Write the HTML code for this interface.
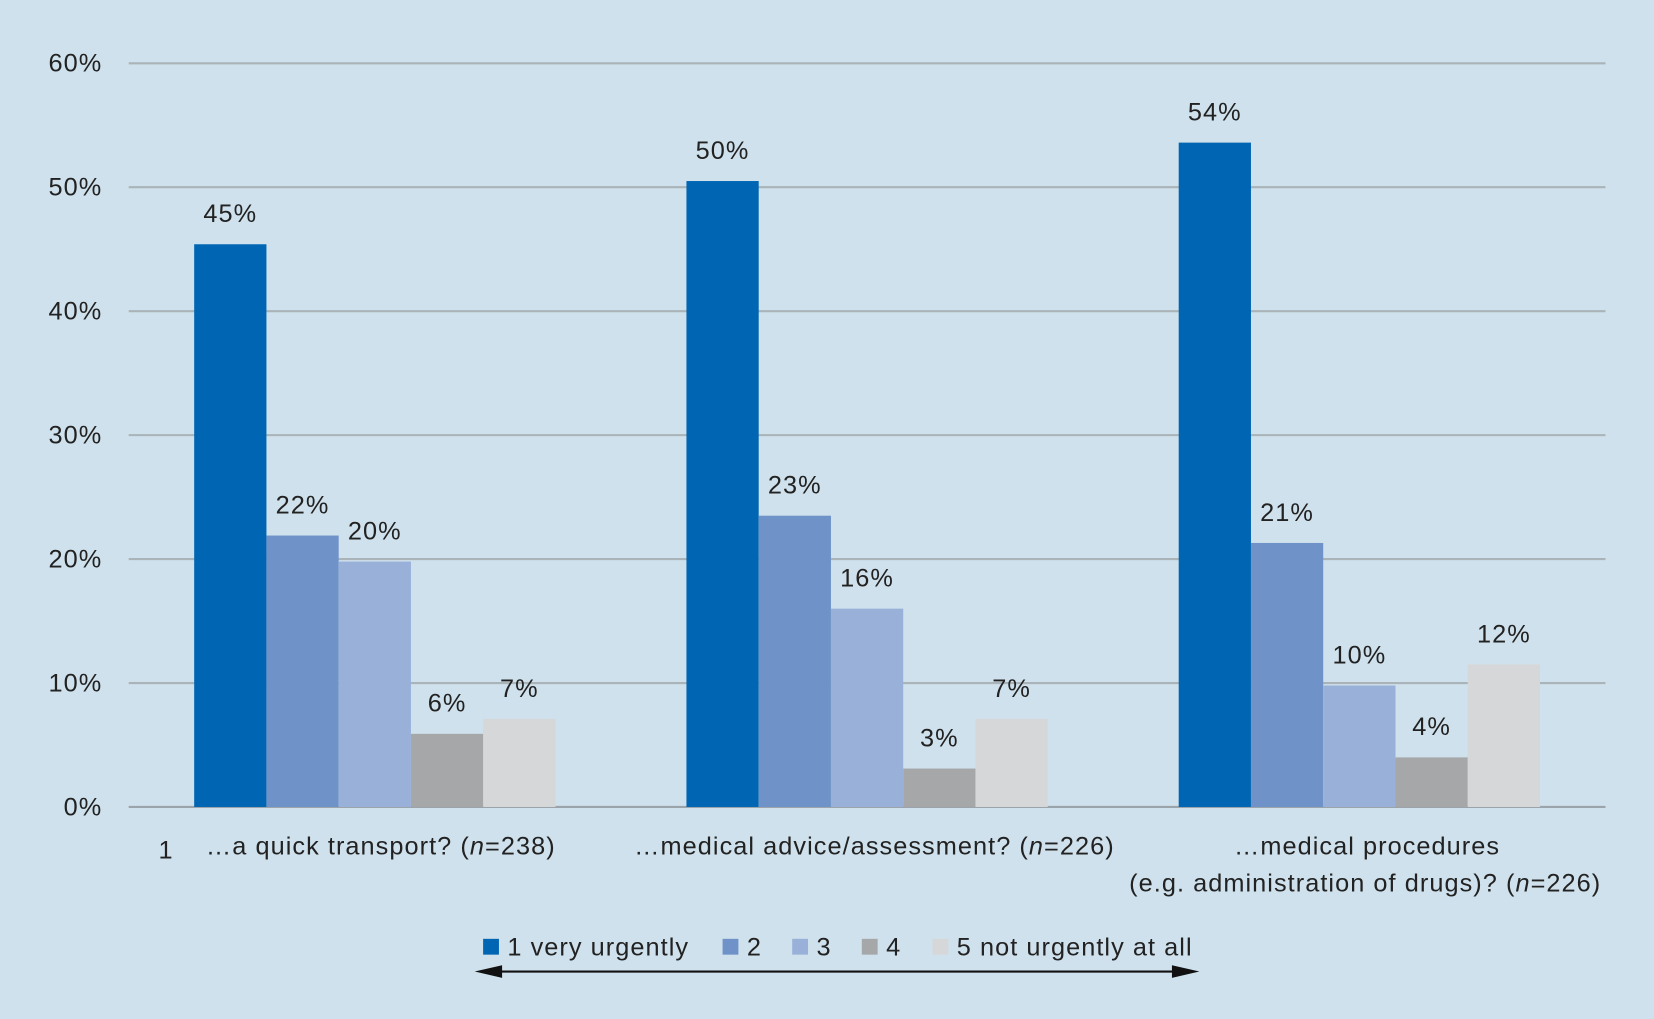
<!DOCTYPE html>
<html><head><meta charset="utf-8"><style>
html,body{margin:0;padding:0;background:#cfe1ec;}
svg{display:block;font-family:"Liberation Sans",sans-serif;}
</style></head><body>
<svg id="chart" width="1654" height="1019" viewBox="0 0 1568 966" preserveAspectRatio="none" xmlns="http://www.w3.org/2000/svg">
<rect width="1568" height="966" fill="#cfe1ec"/>
<g id="grid"></g><g id="bars"></g><g id="labels"></g>
<text x="157" y="814" font-size="24" fill="#222" text-anchor="middle">1</text>
<g font-size="24" fill="#222" letter-spacing="1">
<text x="361" y="810" text-anchor="middle">…a quick transport? (<tspan font-style="italic">n</tspan>=238)</text>
<text x="829" y="810" text-anchor="middle">…medical advice/assessment? (<tspan font-style="italic">n</tspan>=226)</text>
<text x="1296" y="810" text-anchor="middle">…medical procedures</text>
<text x="1518" y="845" text-anchor="end">(e.g. administration of drugs)? (<tspan font-style="italic">n</tspan>=226)</text>
</g>
<g id="legend"></g>
<g>
<line x1="462" y1="921" x2="1125" y2="921" stroke="#111" stroke-width="2"/>
<polygon points="450,921 476,915 476,927" fill="#111"/>
<polygon points="1137,921 1111,915 1111,927" fill="#111"/>
</g>
</svg>
<script>
const categories = ["transport","advice","procedures"];
const seriesNames = ["1 very urgently","2","3","4","5 not urgently at all"];
const values = [[45.4,21.9,19.8,5.9,7.1],[50.5,23.5,16.0,3.1,7.1],[53.6,21.3,9.8,4.0,11.5]];
const valueLabels = [["45%","22%","20%","6%","7%"],["50%","23%","16%","3%","7%"],["54%","21%","10%","4%","12%"]];
const yTicks = [0,10,20,30,40,50,60];
const yTickLabels = ["0%","10%","20%","30%","40%","50%","60%"];
const colors = ["#0066b3","#6f93c8","#99b1d9","#a6a7a9","#d6d7d8"];
const NS="http://www.w3.org/2000/svg";
const L=122,R=1522,Y0=765,Y60=60;
const y=v=>Y0-(v/60)*(Y0-Y60);
const gw=(R-L)/categories.length, bw=68.5;
const x=(g,s)=>L+g*gw+(gw-bw*seriesNames.length)/2+s*bw;
function mk(t,a,p){const e=document.createElementNS(NS,t);for(const k in a)e.setAttribute(k,a[k]);document.getElementById(p).appendChild(e);return e;}
yTicks.forEach((t,i)=>{
 const l=mk('line',{x1:L,x2:R,y1:y(t),y2:y(t),stroke:t===0?'#9aa4aa':'#aab3b8','stroke-width':2},'grid');
 
 
 const tx=mk('text',{x:97,y:y(t)+8,'font-size':24,'letter-spacing':1,fill:'#222','text-anchor':'end'},'grid');
 tx.textContent=yTickLabels[i];
 
 
});
values.forEach((row,g)=>row.forEach((v,s)=>{
 const r=mk('rect',{x:x(g,s),y:y(v),width:bw,height:Y0-y(v),fill:colors[s]},'bars');
 
 
 const t=mk('text',{x:x(g,s)+bw/2,y:y(v)-21,'font-size':24,'letter-spacing':1,fill:'#222','text-anchor':'middle'},'labels');
 t.textContent=valueLabels[g][s];
 
 
}));
const lx=[458,685,751,817,884];
seriesNames.forEach((n,s)=>{
 const r=mk('rect',{x:lx[s],y:890,width:15,height:15,fill:colors[s]},'legend');
 
 
 const t=mk('text',{x:lx[s]+23,y:906,'font-size':24,'letter-spacing':1,fill:'#222'},'legend');
 t.textContent=n;
 
 
});
</script>
</body></html>
